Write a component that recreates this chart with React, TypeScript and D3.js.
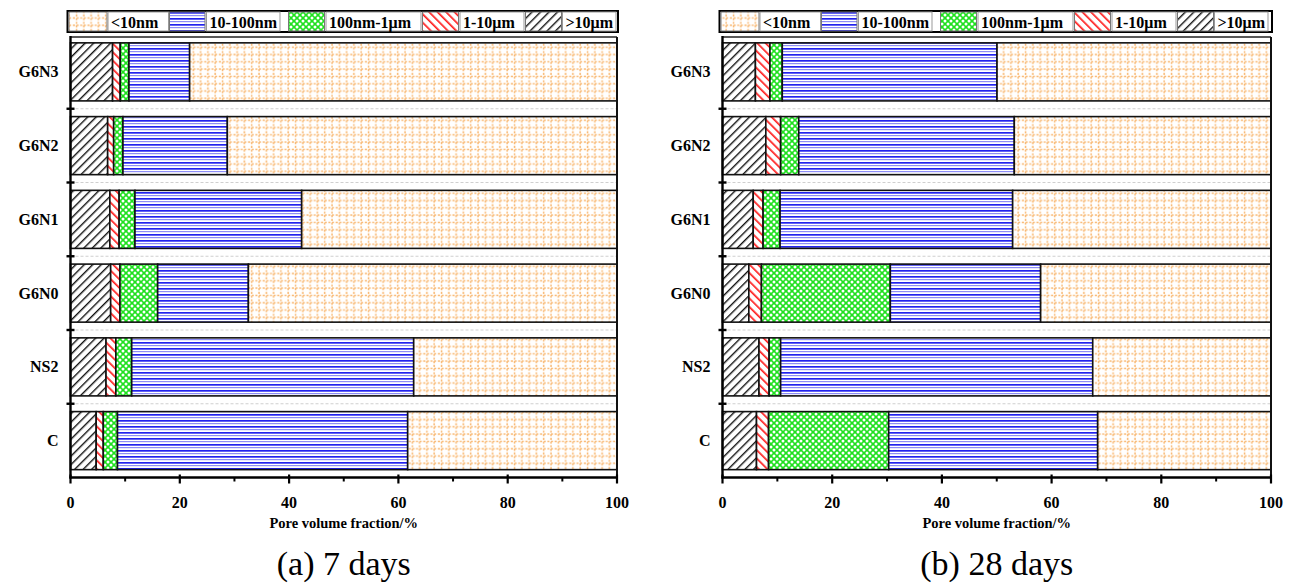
import React from "react";
import * as d3 from "d3";

// Pore size classes (legend order) and specimen groups (top to bottom)
const seriesLabels = ["<10nm", "10-100nm", "100nm-1μm", "1-10μm", ">10μm"];
const categories = ["G6N3", "G6N2", "G6N1", "G6N0", "NS2", "C"];
const xTicks = [0, 20, 40, 60, 80, 100];

// Pore volume fraction (%) after 7 days of curing
const d7_gt10um = [7.7, 6.8, 7.2, 7.35, 6.5, 4.7];
const d7_1to10um = [1.4, 1.1, 1.7, 1.7, 1.8, 1.3];
const d7_100nmTo1um = [1.6, 1.7, 2.9, 6.9, 2.9, 2.6];
const d7_10to100nm = [11.1, 19.1, 30.5, 16.6, 51.6, 53.1];
const d7_lt10nm = [78.2, 71.3, 57.7, 67.45, 37.2, 38.3];

// Pore volume fraction (%) after 28 days of curing
const d28_gt10um = [6.0, 7.9, 5.6, 4.8, 6.65, 6.2];
const d28_1to10um = [2.65, 2.7, 1.8, 2.3, 1.85, 2.2];
const d28_100nmTo1um = [2.25, 3.3, 3.1, 23.5, 2.1, 21.9];
const d28_10to100nm = [39.15, 39.3, 42.4, 27.4, 56.9, 38.1];
const d28_lt10nm = [49.95, 46.8, 47.1, 42.0, 32.5, 31.6];

// stacking order from the axis outwards
const stackKeys = [">10μm", "1-10μm", "100nm-1μm", "10-100nm", "<10nm"];
const patternId: Record<string, string> = {
  "<10nm": "pat-lt10",
  "10-100nm": "pat-10to100",
  "100nm-1μm": "pat-100to1",
  "1-10μm": "pat-1to10",
  ">10μm": "pat-gt10",
};

function buildRows(gt10: number[], a: number[], b: number[], c: number[], lt10: number[]) {
  return categories.map((cat, i) => ({
    cat,
    ">10μm": gt10[i],
    "1-10μm": a[i],
    "100nm-1μm": b[i],
    "10-100nm": c[i],
    "<10nm": lt10[i],
  }));
}

const rows7 = buildRows(d7_gt10um, d7_1to10um, d7_100nmTo1um, d7_10to100nm, d7_lt10nm);
const rows28 = buildRows(d28_gt10um, d28_1to10um, d28_100nmTo1um, d28_10to100nm, d28_lt10nm);

const FONT = "'Liberation Serif', 'Times New Roman', serif";

// legend boxes: [swatchStart, swatchEnd, labelStart, labelEnd] relative to legend left
const legendBoxes = [
  [1.5, 39.5, 40.5, 101],
  [102, 137.5, 139, 212.5],
  [221, 257, 258.5, 353.5],
  [355, 391, 392.5, 456.5],
  [458, 494, 495, 548.5],
];

function Patterns() {
  return (
    <defs>
      <pattern id="pat-lt10" patternUnits="userSpaceOnUse" width={14.6} height={14.6}>
        <rect width={14.6} height={14.6} fill="#fff" />
        <g stroke="#f6a54c" strokeWidth={1.5} strokeDasharray="2 1.6" opacity={0.8}>
          <line x1={0} y1={3.5} x2={14.6} y2={3.5} />
          <line x1={0} y1={10.8} x2={14.6} y2={10.8} />
          <line x1={3.5} y1={0} x2={3.5} y2={14.6} />
          <line x1={10.8} y1={0} x2={10.8} y2={14.6} />
        </g>
      </pattern>
      <pattern id="pat-10to100" patternUnits="userSpaceOnUse" width={8} height={6}>
        <rect width={8} height={6} fill="#fff" />
        <rect y={0} width={8} height={1.7} fill="#2222ee" />
        <rect y={3} width={8} height={1.2} fill="#8c8cf6" />
      </pattern>
      <pattern id="pat-100to1" patternUnits="userSpaceOnUse" width={6} height={6}>
        <rect width={6} height={6} fill="#1fe01f" />
        <circle cx={0} cy={0} r={1.5} fill="#fff" />
        <circle cx={6} cy={0} r={1.5} fill="#fff" />
        <circle cx={0} cy={6} r={1.5} fill="#fff" />
        <circle cx={6} cy={6} r={1.5} fill="#fff" />
        <circle cx={3} cy={3} r={1.5} fill="#fff" />
      </pattern>
      <pattern
        id="pat-1to10"
        patternUnits="userSpaceOnUse"
        width={6}
        height={6}
        patternTransform="rotate(-45)"
      >
        <rect width={6} height={6} fill="#fff" />
        <rect x={0} width={1.7} height={6} fill="#ff1f1f" />
      </pattern>
      <pattern
        id="pat-gt10"
        patternUnits="userSpaceOnUse"
        width={6}
        height={6}
        patternTransform="rotate(45)"
      >
        <rect width={6} height={6} fill="#fff" />
        <rect x={0} width={1.4} height={6} fill="#111" />
      </pattern>
    </defs>
  );
}

type Row = ReturnType<typeof buildRows>[number];

function Panel({
  rows,
  left,
  right,
  caption,
}: {
  rows: Row[];
  left: number;
  right: number;
  caption: string;
}) {
  const top = 35;
  const bottom = 477.5;
  const frameTop = 37;

  const x = d3.scaleLinear().domain([0, 100]).range([left, right]);
  const y = d3
    .scaleBand<string>()
    .domain(categories)
    .range([top, bottom])
    .paddingInner(0.213)
    .paddingOuter(0.1065);

  const stacked = d3.stack<Row>().keys(stackKeys)(rows as any);
  const step = y.step();
  const boundaries = d3.range(1, categories.length).map((i) => top + i * step);
  const minorTicks = d3.range(10, 100, 20);

  const legendLeft = left - 3;
  const legendTop = 11;
  const legendH = 21;
  const cx = (left + right) / 2;

  return (
    <g>
      {/* dotted separators between bars */}
      {boundaries.map((b, i) => (
        <line
          key={"g" + i}
          x1={left}
          x2={right}
          y1={b}
          y2={b}
          stroke="#cfcfcf"
          strokeWidth={1}
          strokeDasharray="3 2"
        />
      ))}

      {/* stacked bars */}
      {stacked.map((layer) => (
        <g key={layer.key}>
          {layer.map((d, i) => (
            <rect
              key={i}
              x={x(d[0])}
              y={y(rows[i].cat)}
              width={x(d[1]) - x(d[0])}
              height={y.bandwidth()}
              fill={`url(#${patternId[layer.key]})`}
              stroke="#111"
              strokeWidth={1.6}
            />
          ))}
        </g>
      ))}

      {/* frame */}
      <line x1={left} x2={right} y1={frameTop} y2={frameTop} stroke="#222" strokeWidth={1.6} />
      <line x1={right} x2={right} y1={frameTop} y2={bottom} stroke="#111" strokeWidth={2} />
      <line x1={left} x2={left} y1={frameTop - 1} y2={bottom + 1} stroke="#000" strokeWidth={2.4} />
      <line x1={left - 1} x2={right + 1} y1={bottom} y2={bottom} stroke="#000" strokeWidth={2.4} />

      {/* y ticks at band boundaries */}
      {boundaries.map((b, i) => (
        <line key={"yt" + i} x1={left - 4} x2={left + 4} y1={b} y2={b} stroke="#000" strokeWidth={2.4} />
      ))}

      {/* category labels */}
      {categories.map((c) => (
        <text
          key={c}
          x={left - 12}
          y={(y(c) ?? 0) + y.bandwidth() / 2}
          textAnchor="end"
          dominantBaseline="central"
          fontFamily={FONT}
          fontWeight="bold"
          fontSize={16}
          fill="#000"
        >
          {c}
        </text>
      ))}

      {/* x axis ticks */}
      {xTicks.map((t) => (
        <g key={"xt" + t}>
          <line x1={x(t)} x2={x(t)} y1={bottom - 3} y2={bottom + 6} stroke="#000" strokeWidth={2.2} />
          <text
            x={x(t)}
            y={bottom + 25}
            textAnchor="middle"
            dominantBaseline="central"
            fontFamily={FONT}
            fontWeight="bold"
            fontSize={16}
            fill="#000"
          >
            {t}
          </text>
        </g>
      ))}
      {minorTicks.map((t) => (
        <line key={"mt" + t} x1={x(t)} x2={x(t)} y1={bottom} y2={bottom + 4} stroke="#000" strokeWidth={2} />
      ))}

      <text
        x={cx}
        y={bottom + 45}
        textAnchor="middle"
        dominantBaseline="central"
        fontFamily={FONT}
        fontWeight="bold"
        fontSize={14.5}
        fill="#000"
      >
        Pore volume fraction/%
      </text>

      <text
        x={cx}
        y={bottom + 86}
        textAnchor="middle"
        dominantBaseline="central"
        fontFamily={FONT}
        fontSize={34}
        fill="#000"
      >
        {caption}
      </text>

      {/* legend */}
      <g>
        <rect
          x={legendLeft}
          y={legendTop}
          width={right + 1 - legendLeft}
          height={legendH}
          fill="#fff"
          stroke="#000"
          strokeWidth={2}
        />
        {seriesLabels.map((s, i) => {
          const [s0, s1, l0, l1] = legendBoxes[i];
          return (
            <g key={s}>
              <rect
                x={legendLeft + s0}
                y={legendTop + 1}
                width={s1 - s0}
                height={legendH - 2}
                fill={`url(#${patternId[s]})`}
                stroke="#777"
                strokeWidth={1}
              />
              <rect
                x={legendLeft + l0}
                y={legendTop + 1}
                width={l1 - l0}
                height={legendH - 2}
                fill="#fff"
                stroke="#999"
                strokeWidth={1}
              />
              <text
                x={legendLeft + l0 + 3}
                y={legendTop + legendH / 2 + 1}
                dominantBaseline="central"
                fontFamily={FONT}
                fontWeight="bold"
                fontSize={16}
                fill="#000"
              >
                {s}
              </text>
            </g>
          );
        })}
      </g>
    </g>
  );
}

export default function App() {
  return (
    <svg
      width={1293}
      height={585}
      viewBox="0 0 1293 585"
      style={{ position: "absolute", left: 0, top: 0, background: "#fff" }}
    >
      <Patterns />
      <rect width={1293} height={585} fill="#fff" />
      <Panel rows={rows7} left={70.5} right={617} caption="(a) 7 days" />
      <Panel rows={rows28} left={722.5} right={1271} caption="(b) 28 days" />
    </svg>
  );
}
